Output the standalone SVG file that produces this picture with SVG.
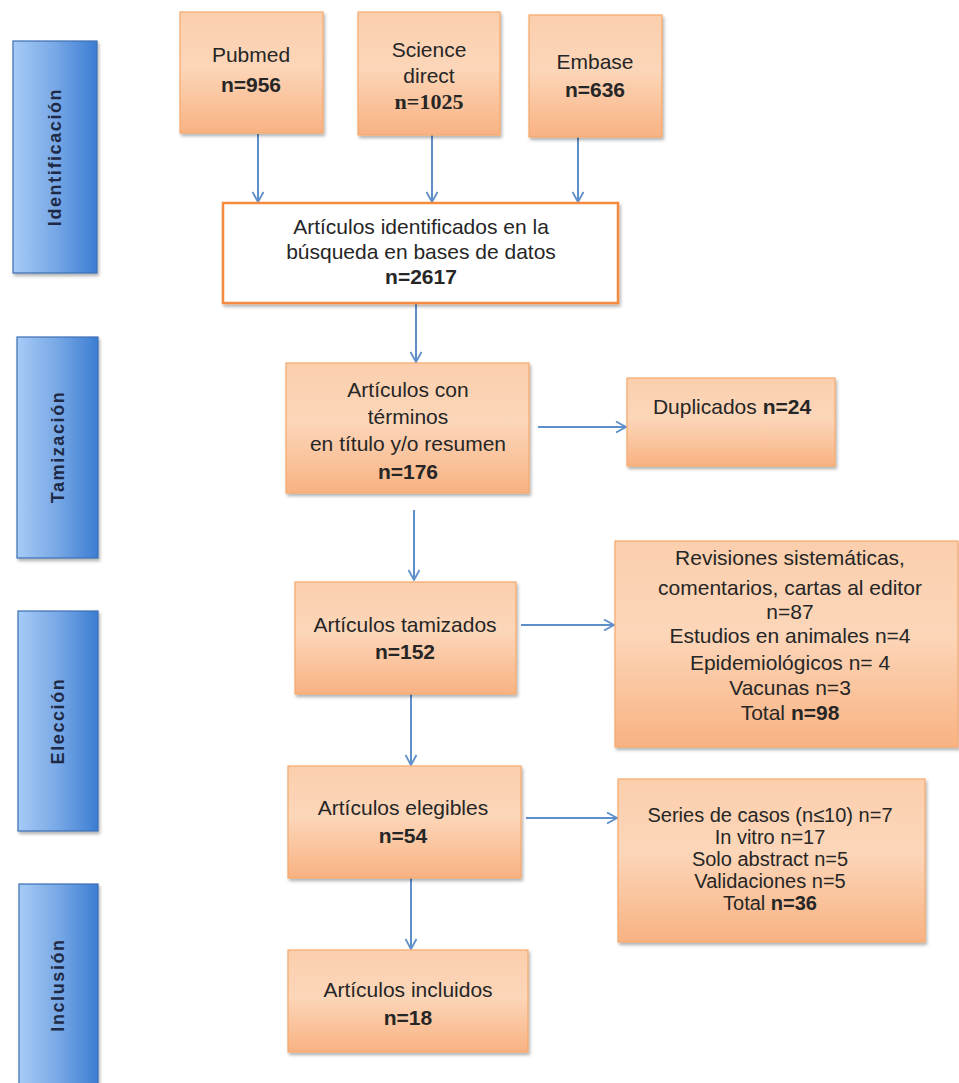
<svg xmlns="http://www.w3.org/2000/svg" width="959" height="1083" viewBox="0 0 959 1083">
<style>
.t{font-family:"Liberation Sans",Arial,sans-serif;font-size:21px;fill:#262626;text-anchor:middle}
.s{font-size:20px}
.b{font-weight:bold}
.serif{font-family:"Liberation Serif","Times New Roman",serif;font-weight:bold;font-size:22px}
.bar{fill:url(#gBlue);stroke:#3b6fb3;stroke-width:1.2}
.box{fill:url(#gOrange);stroke:#f5a86a;stroke-width:1.2}
.bl{font-family:"Liberation Sans",Arial,sans-serif;font-size:18px;font-weight:bold;fill:#1e2a45;text-anchor:middle;letter-spacing:1.6px}
.c{fill:none;stroke:#5f8fcb;stroke-width:2}
</style>
<defs>
<linearGradient id="gBlue" x1="0" y1="0" x2="1" y2="0">
<stop offset="0" stop-color="#a6cbf6"/>
<stop offset="0.5" stop-color="#78a8e6"/>
<stop offset="1" stop-color="#3b7dd2"/>
</linearGradient>
<linearGradient id="gOrange" x1="0" y1="0" x2="0" y2="1">
<stop offset="0" stop-color="#fbcfad"/>
<stop offset="0.45" stop-color="#fcd6b9"/>
<stop offset="1" stop-color="#f8b282"/>
</linearGradient>
<filter id="sh" x="-10%" y="-10%" width="125%" height="130%">
<feDropShadow dx="1.5" dy="2.5" stdDeviation="1.8" flood-color="#000" flood-opacity="0.3"/>
</filter>
<marker id="ah" viewBox="0 0 12 12" refX="11" refY="6" markerWidth="12" markerHeight="12" markerUnits="userSpaceOnUse" orient="auto">
<path d="M1,0.5 L11,6 L1,11.5" fill="none" stroke="#5f8fcb" stroke-width="1.8"/>
</marker>
</defs>
<rect width="959" height="1083" fill="#ffffff"/>

<g id="bar-identificacion">
<rect class="bar" x="13" y="41" width="84" height="232" filter="url(#sh)"/>
<text class="bl" transform="translate(61,157) rotate(-90)">Identificación</text>
</g>
<g id="bar-tamizacion">
<rect class="bar" x="17" y="337" width="81" height="221" filter="url(#sh)"/>
<text class="bl" transform="translate(64,447) rotate(-90)">Tamización</text>
</g>
<g id="bar-eleccion">
<rect class="bar" x="18" y="611" width="80" height="220" filter="url(#sh)"/>
<text class="bl" transform="translate(64,721) rotate(-90)">Elección</text>
</g>
<g id="bar-inclusion">
<rect class="bar" x="19" y="884" width="79" height="215" filter="url(#sh)"/>
<text class="bl" transform="translate(64,985) rotate(-90)">Inclusión</text>
</g>

<g id="connectors">
<line class="c" x1="258" y1="134" x2="258" y2="202" marker-end="url(#ah)"/>
<line class="c" x1="432" y1="135" x2="432" y2="202" marker-end="url(#ah)"/>
<line class="c" x1="578" y1="137" x2="578" y2="202" marker-end="url(#ah)"/>
<line class="c" x1="416" y1="303" x2="416" y2="362" marker-end="url(#ah)"/>
<line class="c" x1="538" y1="427" x2="626" y2="427" marker-end="url(#ah)"/>
<line class="c" x1="414" y1="510" x2="414" y2="580" marker-end="url(#ah)"/>
<line class="c" x1="521" y1="625" x2="614" y2="625" marker-end="url(#ah)"/>
<line class="c" x1="411" y1="694" x2="411" y2="765" marker-end="url(#ah)"/>
<line class="c" x1="526" y1="818" x2="617" y2="818" marker-end="url(#ah)"/>
<line class="c" x1="411" y1="878" x2="411" y2="949" marker-end="url(#ah)"/>
</g>

<g id="pubmed">
<rect class="box" x="180" y="12" width="143" height="121" filter="url(#sh)"/>
<text class="t" x="251" y="62">Pubmed</text>
<text class="t b" x="251" y="92">n=956</text>
</g>
<g id="science-direct">
<rect class="box" x="358" y="12" width="142" height="123" filter="url(#sh)"/>
<text class="t" x="429" y="57">Science</text>
<text class="t" x="429" y="83">direct</text>
<text class="t serif" x="429" y="109">n=1025</text>
</g>
<g id="embase">
<rect class="box" x="529" y="15" width="133" height="122" filter="url(#sh)"/>
<text class="t" x="595" y="69">Embase</text>
<text class="t b" x="595" y="97">n=636</text>
</g>
<g id="identificados">
<rect x="223" y="203" width="395" height="100" fill="#ffffff" stroke="#f48a3c" stroke-width="2.5" filter="url(#sh)"/>
<text class="t" x="421" y="234">Artículos identificados en la</text>
<text class="t" x="421" y="259">búsqueda en bases de datos</text>
<text class="t b" x="421" y="284">n=2617</text>
</g>
<g id="terminos">
<rect class="box" x="286" y="363" width="243" height="130" filter="url(#sh)"/>
<text class="t" x="408" y="397">Artículos con</text>
<text class="t" x="408" y="424">términos</text>
<text class="t" x="408" y="451">en título y/o resumen</text>
<text class="t b" x="408" y="479">n=176</text>
</g>
<g id="duplicados">
<rect class="box" x="627" y="378" width="208" height="88" filter="url(#sh)"/>
<text class="t" x="732" y="414">Duplicados <tspan class="b">n=24</tspan></text>
</g>
<g id="tamizados">
<rect class="box" x="295" y="582" width="221" height="112" filter="url(#sh)"/>
<text class="t" x="405" y="632">Artículos tamizados</text>
<text class="t b" x="405" y="659">n=152</text>
</g>
<g id="revisiones">
<rect class="box" x="615" y="541" width="343" height="206" filter="url(#sh)"/>
<text class="t" x="790" y="565">Revisiones sistemáticas,</text>
<text class="t" x="790" y="595">comentarios, cartas al editor</text>
<text class="t" x="790" y="619">n=87</text>
<text class="t" x="790" y="643">Estudios en animales n=4</text>
<text class="t" x="790" y="670">Epidemiológicos n= 4</text>
<text class="t" x="790" y="695">Vacunas n=3</text>
<text class="t" x="790" y="720">Total <tspan class="b">n=98</tspan></text>
</g>
<g id="elegibles">
<rect class="box" x="288" y="766" width="233" height="112" filter="url(#sh)"/>
<text class="t" x="403" y="815">Artículos elegibles</text>
<text class="t b" x="403" y="843">n=54</text>
</g>
<g id="series">
<rect class="box" x="618" y="779" width="307" height="163" filter="url(#sh)"/>
<text class="t s" x="770" y="822">Series de casos (n≤10) n=7</text>
<text class="t s" x="770" y="844">In vitro n=17</text>
<text class="t s" x="770" y="866">Solo abstract n=5</text>
<text class="t s" x="770" y="888">Validaciones n=5</text>
<text class="t s" x="770" y="910">Total <tspan class="b">n=36</tspan></text>
</g>
<g id="incluidos">
<rect class="box" x="288" y="950" width="240" height="102" filter="url(#sh)"/>
<text class="t" x="408" y="997">Artículos incluidos</text>
<text class="t b" x="408" y="1025">n=18</text>
</g>
</svg>
